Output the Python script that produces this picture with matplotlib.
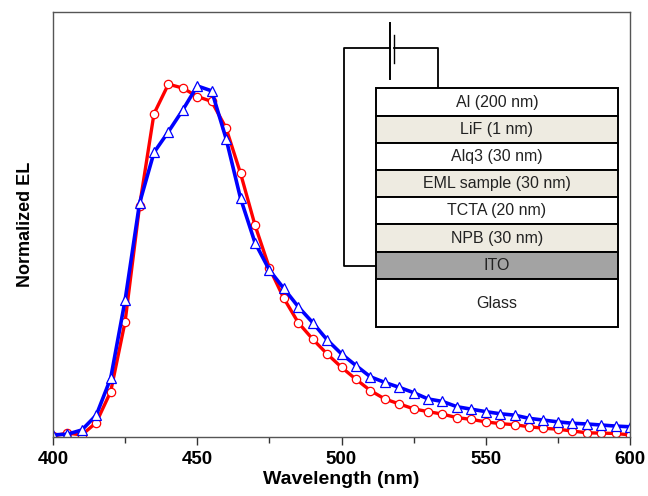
import numpy as np
import matplotlib.pyplot as plt
from matplotlib.patches import Rectangle

plt.rcParams['font.family'] = ['Liberation Sans', 'DejaVu Sans']

# emission spectra, sampled every 5 nm
wavelength = list(range(400, 605, 5))
el_red = [0.003, 0.011, 0.006, 0.041, 0.129, 0.328, 0.656, 0.918, 1.002, 0.991,
          0.967, 0.953, 0.877, 0.749, 0.602, 0.480, 0.394, 0.325, 0.278, 0.236,
          0.198, 0.164, 0.132, 0.108, 0.094, 0.080, 0.072, 0.065, 0.055, 0.050,
          0.043, 0.038, 0.035, 0.029, 0.025, 0.022, 0.017, 0.012, 0.011, 0.010,
          0.006]
el_blue = [0.006, 0.008, 0.020, 0.062, 0.167, 0.389, 0.664, 0.808, 0.867, 0.929,
           0.997, 0.983, 0.847, 0.678, 0.552, 0.474, 0.422, 0.370, 0.325, 0.276,
           0.236, 0.203, 0.171, 0.155, 0.141, 0.126, 0.108, 0.101, 0.086, 0.079,
           0.072, 0.066, 0.062, 0.053, 0.048, 0.043, 0.039, 0.037, 0.034, 0.031,
           0.029]

# device stack (top to bottom)
layers = ['Al (200 nm)', 'LiF (1 nm)', 'Alq3 (30 nm)', 'EML sample (30 nm)',
          'TCTA (20 nm)', 'NPB (30 nm)', 'ITO', 'Glass']
layer_fill = ['white', '#eeebe1', 'white', '#eeebe1', 'white', '#eeebe1',
              '#a3a3a3', 'white']
layer_h = [27.4, 27, 27.3, 26.7, 27.3, 27.7, 27.6, 47.4]

W, H = 648, 496
fig = plt.figure(figsize=(W / 100, H / 100), dpi=100)
ax = fig.add_axes([53 / W, 1 - 437 / H, 577 / W, 425 / H])

ax.plot(wavelength, el_red, color='red', lw=2.4, marker='o', ms=6,
        mfc='white', mec='red', mew=0.9)
ax.plot(wavelength, el_blue, color='blue', lw=2.6, marker='^', ms=6.5,
        mfc='white', mec='blue', mew=0.9)

ax.set_xlim(400, 600)
ax.set_ylim(0, 1.207)
ax.set_xticks([400, 450, 500, 550, 600])
ax.set_xticks([425, 475, 525, 575], minor=True)
ax.set_yticks([])
ax.tick_params(axis='x', which='major', direction='out', length=6, width=1,
               labelsize=13.5, pad=4, colors='#333333', labelcolor='black')
ax.tick_params(axis='x', which='minor', direction='out', length=4, width=1,
               colors='#333333')
for lab in ax.get_xticklabels():
    lab.set_fontweight('bold')
for s in ax.spines.values():
    s.set_color('#555555')
    s.set_linewidth(1.0)
ax.set_xlabel('Wavelength (nm)', fontsize=14, fontweight='bold', labelpad=2)
ax.set_ylabel('Normalized EL', fontsize=13, fontweight='bold', labelpad=14)

# inset: device structure, drawn in pixel coordinates on an overlay
ov = fig.add_axes([0, 0, 1, 1], facecolor='none')
ov.set_xlim(0, W)
ov.set_ylim(H, 0)
ov.axis('off')

x0, x1 = 376, 618
y = 88.3
for name, fill, h in zip(layers, layer_fill, layer_h):
    ov.add_patch(Rectangle((x0, y), x1 - x0, h, facecolor=fill,
                           edgecolor='black', lw=1.4, zorder=2))
    ov.text((x0 + x1) / 2, y + h / 2 + 0.5, name, ha='center', va='center',
            fontsize=11.5, color='#222222', zorder=3)
    y += h

# circuit wire and battery
ito_mid = 88.3 + sum(layer_h[:6]) + layer_h[6] / 2
wire_y = 48.3
ov.plot([x0, 344, 344, 390], [ito_mid, ito_mid, wire_y, wire_y],
        color='black', lw=1.3, zorder=1)
ov.plot([394.3, 438.3, 438.3], [wire_y, wire_y, 88.3], color='black', lw=1.3,
        zorder=1)
ov.plot([390, 390], [22.7, 79], color='black', lw=1.4)
ov.plot([394.3, 394.3], [35, 62.7], color='black', lw=1.0)

fig.savefig('out.png', dpi=100)
